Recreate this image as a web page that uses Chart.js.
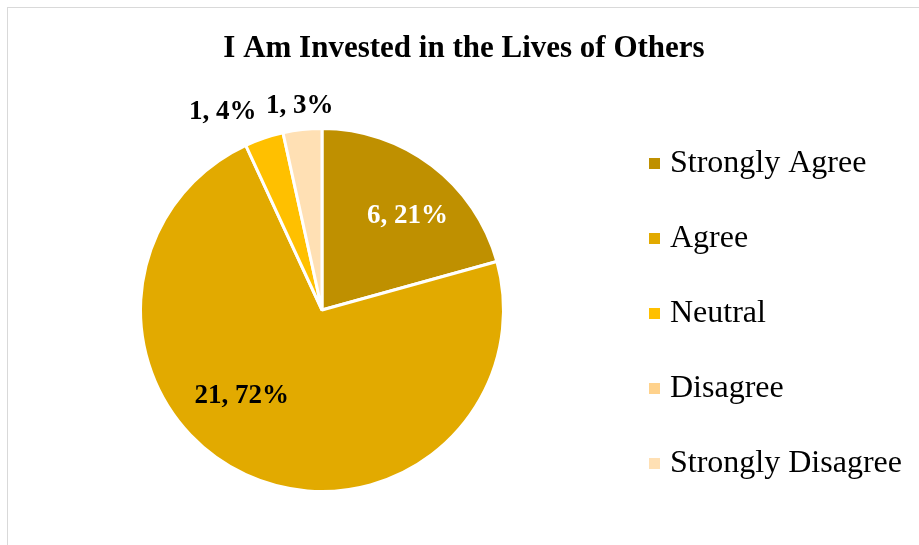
<!DOCTYPE html>
<html>
<head>
<meta charset="utf-8">
<script src="https://cdn.jsdelivr.net/npm/chart.js@4.4.1/dist/chart.umd.min.js"></script>
<style>
  html, body { margin: 0; padding: 0; background: #ffffff; }
  #wrap { position: relative; width: 919px; height: 545px; }
  #frame { position: absolute; left: 7px; top: 7px; right: -2px; bottom: -2px; border: 1px solid #d9d9d9; }
  canvas { position: absolute; left: 0; top: 0; }
</style>
</head>
<body>
<div id="wrap">
  <div id="frame"></div>
  <canvas id="pie-chart" width="919" height="545"></canvas>
</div>
<script>
// Survey responses
const categories = ['Strongly Agree', 'Agree', 'Neutral', 'Disagree', 'Strongly Disagree'];
const counts = [6, 21, 1, 0, 1];
const percentLabels = ['21%', '72%', '4%', '0%', '3%'];
const sliceColors = ['#bf9000', '#e2aa00', '#ffc000', '#ffd28c', '#ffe0b4'];

const chartTitle = 'I Am Invested in the Lives of Others';

// Where each data label sits: angle shift from the slice middle (deg), radius factor, colour
const labelPlacement = [
    { shift: 5, r: 0.70, color: '#ffffff' },
    { shift: 18, r: 0.65, color: '#000000' },
    { shift: -8, r: 1.22, color: '#000000' },
    null,
    { shift: 0, r: 1.13, color: '#000000' }
];

// Draws title, legend and slice labels
const decorPlugin = {
    id: 'decor',
    afterDraw(chart) {
        const ctx = chart.ctx;
        ctx.save();

        // Title
        ctx.fillStyle = '#000000';
        ctx.font = 'bold 31px "Liberation Serif", "Times New Roman", serif';
        ctx.textAlign = 'center';
        ctx.textBaseline = 'alphabetic';
        ctx.fillText(chartTitle, 464, 57);

        // Data labels
        ctx.textBaseline = 'middle';
        const meta = chart.getDatasetMeta(0);
        ctx.font = 'bold 27px "Liberation Serif", "Times New Roman", serif';
        meta.data.forEach((arc, i) => {
            const place = labelPlacement[i];
            if (!place || counts[i] === 0) return;
            const { x, y, startAngle, endAngle, outerRadius } = arc.getProps(['x', 'y', 'startAngle', 'endAngle', 'outerRadius'], true);
            const mid = (startAngle + endAngle) / 2 + place.shift * Math.PI / 180;
            const r = outerRadius * place.r;
            ctx.fillStyle = place.color;
            ctx.fillText(counts[i] + ', ' + percentLabels[i], x + Math.cos(mid) * r, y + Math.sin(mid) * r);
        });

        // Legend
        ctx.font = '32px "Liberation Serif", "Times New Roman", serif';
        ctx.textAlign = 'left';
        categories.forEach((name, i) => {
            const rowY = 164 + i * 75;
            ctx.fillStyle = sliceColors[i];
            ctx.fillRect(649, rowY - 6, 11, 11);
            ctx.fillStyle = '#000000';
            ctx.fillText(name, 670, rowY);
        });

        ctx.restore();
    }
};

const ctx = document.getElementById('pie-chart').getContext('2d');
window.pieChart = new Chart(ctx, {
    type: 'pie',
    data: {
        labels: categories,
        datasets: [{
            data: counts,
            backgroundColor: sliceColors,
            borderColor: '#ffffff',
            borderWidth: 3
        }]
    },
    options: {
        responsive: false,
        animation: false,
        layout: {
            padding: { left: 139, right: 414, top: 127, bottom: 52 }
        },
        plugins: {
            legend: { display: false },
            tooltip: { enabled: false }
        }
    },
    plugins: [decorPlugin]
});
</script>
</body>
</html>
